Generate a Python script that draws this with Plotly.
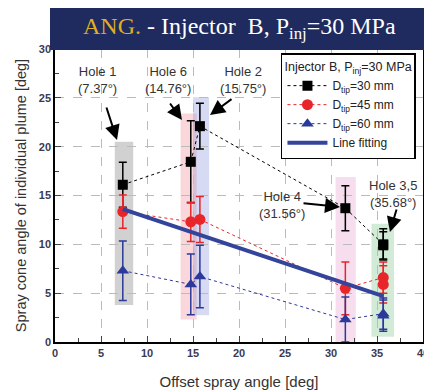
import plotly.graph_objects as go

# ---- data ----
hole_x = [7.37, 14.76, 15.75, 31.56, 35.68, 35.68]
d30 = [16.1, 18.45, 22.1, 13.7, 10.0, 9.9]
d30_err = [2.3, 4.2, 2.35, 2.3, 1.6, 1.4]
d45 = [13.35, 12.3, 12.55, 5.5, 6.6, 5.9]
d45_err = [1.7, 2.0, 2.35, 2.7, 1.6, 1.9]
d60 = [7.3, 5.9, 6.7, 2.3, 2.9, 2.7]
d60_err = [3.05, 3.1, 3.2, 2.3, 1.6, 1.6]

fit_x = [7.37, 35.68]
fit_y = [13.6, 4.7]

band_x0 = [6.5, 13.65, 15.0, 30.5, 34.4]
band_x1 = [8.5, 15.4, 16.75, 32.7, 36.85]
band_y0 = [3.8, 2.3, 2.75, 0.0, 0.55]
band_y1 = [20.5, 23.4, 25.05, 16.9, 12.1]
band_col = ["rgba(140,140,140,0.40)", "rgba(240,140,150,0.35)",
            "rgba(140,150,220,0.35)", "rgba(230,160,210,0.35)",
            "rgba(140,205,155,0.40)"]

labels = ["Hole 1<br>(7.37°)", "Hole 6<br>(14.76°)", "Hole 2<br>(15.75°)",
          "Hole 4<br>(31.56°)", "Hole 3,5<br>(35.68°)"]
label_x = [4.57, 12.28, 20.4, 24.67, 36.74]
label_y = [26.8, 26.8, 26.8, 14.0, 15.15]
arrow_tail_x = [5.54, 12.39, 19.35, 26.85, 37.17]
arrow_tail_y = [24.16, 24.57, 24.98, 14.23, 13.72]
arrow_head_x = [6.74, 13.80, 16.85, 30.98, 36.41]
arrow_head_y = [20.68, 22.73, 23.24, 13.82, 11.26]

RED = "#e8262a"
BLUE = "#2b3a9a"
FIT = "#33449b"

fig = go.Figure()

def series(y, err, color, symbol, size, name):
    fig.add_trace(go.Scatter(
        x=hole_x, y=y, name=name, mode="lines+markers",
        line=dict(color=color, width=1, dash="dot"),
        marker=dict(color=color, symbol=symbol, size=size),
        error_y=dict(type="data", array=err, color=color, thickness=1.5, width=4),
    ))

series(d30, d30_err, "black", "square", 10, "D<sub>tip</sub>=30 mm")
series(d45, d45_err, RED, "circle", 11, "D<sub>tip</sub>=45 mm")
series(d60, d60_err, BLUE, "triangle-up", 11, "D<sub>tip</sub>=60 mm")
fig.add_trace(go.Scatter(x=fit_x, y=fit_y, mode="lines", name="Line fitting",
                         line=dict(color=FIT, width=4)))

shapes = []
for x0, x1, y0, y1, c in zip(band_x0, band_x1, band_y0, band_y1, band_col):
    shapes.append(dict(type="rect", xref="x", yref="y", x0=x0, x1=x1, y0=y0, y1=y1,
                       fillcolor=c, line=dict(width=0), layer="below"))
# title box
shapes.append(dict(type="rect", xref="paper", yref="paper", x0=-0.0136, x1=1.008,
                   y0=0.9966, y1=1.15, fillcolor="#1f2a5e", line=dict(width=0),
                   layer="above"))

ann = []
for t, x, y in zip(labels, label_x, label_y):
    ann.append(dict(x=x, y=y, xref="x", yref="y", text=t, showarrow=False,
                    font=dict(family="Liberation Sans", size=13, color="#333333")))
for tx, ty, hx, hy in zip(arrow_tail_x, arrow_tail_y, arrow_head_x, arrow_head_y):
    ann.append(dict(x=hx, y=hy, ax=tx, ay=ty, xref="x", yref="y", axref="x", ayref="y",
                    text="", showarrow=True, arrowhead=2, arrowsize=1.5,
                    arrowwidth=2, arrowcolor="black"))
ann.append(dict(x=0.5, y=1.07, xref="paper", yref="paper", showarrow=False,
                yanchor="middle",
                text="<span style='color:#dfae22'>ANG.</span> - Injector  B, P<sub>inj</sub>=30 MPa",
                font=dict(family="Liberation Serif", size=24, color="white")))

fig.update_layout(
    width=424, height=382,
    margin=dict(l=47, r=9, t=41, b=48, autoexpand=False),
    paper_bgcolor="white", plot_bgcolor="white",
    font=dict(family="Liberation Sans", color="#333333"),
    shapes=shapes, annotations=ann,
    legend=dict(x=0.614, y=0.985, xanchor="left", yanchor="top",
                bgcolor="white", bordercolor="black", borderwidth=1.5,
                font=dict(size=12, color="#222222"),
                title=dict(text="Injector B, P<sub>inj</sub>=30 MPa",
                           font=dict(size=12.5, color="#222222")),
                tracegroupgap=0, itemwidth=40),
)
fig.update_xaxes(range=[0, 40], dtick=5, ticks="inside", ticklen=6, automargin=False,
                 minor=dict(dtick=2.5, ticks="inside", ticklen=4, showgrid=False),
                 showgrid=True, gridcolor="#bbbbbb", griddash="dash",
                 showline=True, linecolor="black", linewidth=1.5, mirror=True,
                 zeroline=False,
                 tickfont=dict(size=11, color="#3a3a55", weight="bold"),
                 title=dict(text="Offset spray angle [deg]",
                            font=dict(size=15, color="#333333"), standoff=22))
fig.update_yaxes(range=[0, 30], dtick=5, ticks="inside", ticklen=6, automargin=False,
                 minor=dict(dtick=2.5, ticks="inside", ticklen=4, showgrid=False),
                 showgrid=True, gridcolor="#bbbbbb", griddash="dash",
                 showline=True, linecolor="black", linewidth=1.5, mirror=True,
                 zeroline=False,
                 tickfont=dict(size=11, color="#3a3a55", weight="bold"),
                 title=dict(text="Spray cone angle of individual plume [deg]",
                            font=dict(size=14.5, color="#333333"), standoff=9))

fig.write_html("out.html")
